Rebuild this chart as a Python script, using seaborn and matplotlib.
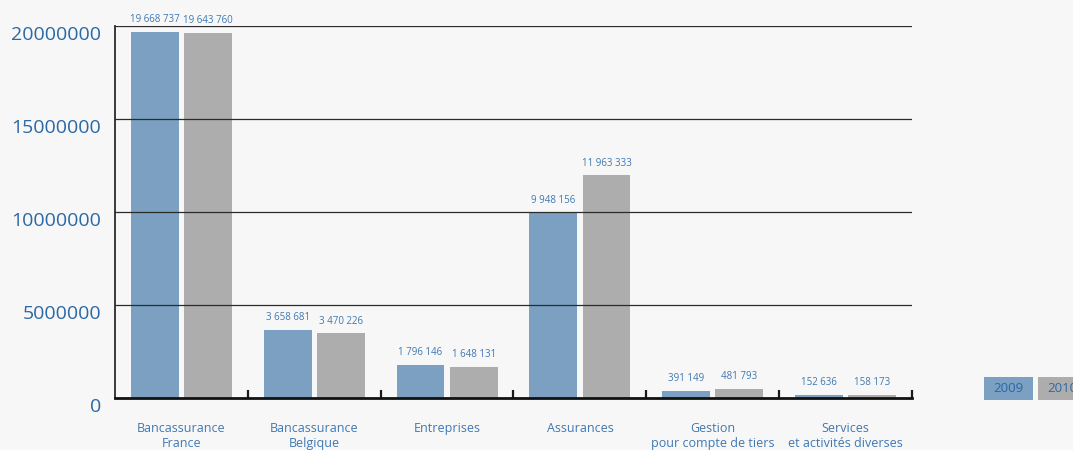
import matplotlib
matplotlib.use("Agg")
import matplotlib.pyplot as plt
import matplotlib.transforms as mtransforms
from matplotlib.patches import Rectangle
from matplotlib.ticker import FixedLocator
import pandas as pd
import seaborn as sns

categories = [
    "Bancassurance\nFrance",
    "Bancassurance\nBelgique",
    "Entreprises",
    "Assurances",
    "Gestion\npour compte de tiers",
    "Services\net activités diverses",
]
years = ["2009", "2010"]
values_2009 = [19668737, 3658681, 1796146, 9948156, 391149, 152636]
values_2010 = [19643760, 3470226, 1648131, 11963333, 481793, 158173]
y_ticks = [0, 5000000, 10000000, 15000000, 20000000]

colors = {"2009": "#7ba0c1", "2010": "#adadae"}
text_blue = "#2a68a6"
label_blue = "#3f78b3"
bg = "#f7f7f7"

df = pd.DataFrame({
    "categorie": categories * 2,
    "annee": [years[0]] * len(categories) + [years[1]] * len(categories),
    "valeur": values_2009 + values_2010,
})

sns.set_theme(style="white")
plt.rcParams["font.family"] = ["Open Sans", "DejaVu Sans"]

fig = plt.figure(figsize=(10.73, 4.5), dpi=100, facecolor=bg)
ax = fig.add_axes([115 / 1073, 52 / 450, 797 / 1073, 372 / 450])
ax.set_facecolor(bg)

sns.barplot(data=df, x="categorie", y="valeur", hue="annee", order=categories,
            hue_order=years, palette=colors, width=0.8, gap=0.1,
            saturation=1, legend=False, ax=ax, zorder=2,
            linewidth=0, edgecolor="none")

# value labels above each bar, with spaces as thousands separators
for cont in ax.containers:
    labels = [f"{v:,.0f}".replace(",", " ") for v in cont.datavalues]
    ax.bar_label(cont, labels=labels, padding=5, fontsize=7, color=label_blue)

ax.set_xlim(-0.5, len(categories) - 0.5)
ax.set_ylim(0, 20000000)
ax.set_xlabel("")
ax.set_ylabel("")

# horizontal gridlines drawn over the bars
for yv in y_ticks[1:]:
    ax.axhline(yv, color="#2b2b2b", lw=0.9, zorder=5)

ax.set_yticks(y_ticks)
ax.set_yticklabels([str(v) for v in y_ticks], fontsize=14, color=text_blue)
ax.tick_params(axis="y", length=0, pad=10)
offset = mtransforms.ScaledTranslation(0, -7 / 100, fig.dpi_scale_trans)
for lbl in ax.get_yticklabels():
    lbl.set_transform(lbl.get_transform() + offset)

ax.tick_params(axis="x", which="major", length=0, pad=17, labelsize=9,
               labelcolor=label_blue)
for lbl in ax.get_xticklabels():
    lbl.set_linespacing(1.2)
ax.xaxis.set_minor_locator(FixedLocator([i + 0.5 for i in range(len(categories))]))
ax.tick_params(axis="x", which="minor", bottom=True, direction="in", length=6,
               width=1.6, color="#1a1a1a")

for side in ["top", "right"]:
    ax.spines[side].set_visible(False)
ax.spines["left"].set_color("#2b2b2b")
ax.spines["left"].set_linewidth(1.3)
ax.spines["bottom"].set_color("#111111")
ax.spines["bottom"].set_linewidth(2)
ax.spines["bottom"].set_zorder(6)

# legend swatches with the year written inside
box_w, box_h = 49 / 1073, 23 / 450
for i, yr in enumerate(years):
    x0 = (984 + i * 54) / 1073
    y0 = 50 / 450
    fig.patches.append(Rectangle((x0, y0), box_w, box_h, transform=fig.transFigure,
                                 facecolor=colors[yr], edgecolor="none"))
    fig.text(x0 + box_w / 2, y0 + box_h / 2, yr, ha="center", va="center",
             fontsize=9.5, color=text_blue)

fig.savefig("out.png", dpi=100, facecolor=bg)
